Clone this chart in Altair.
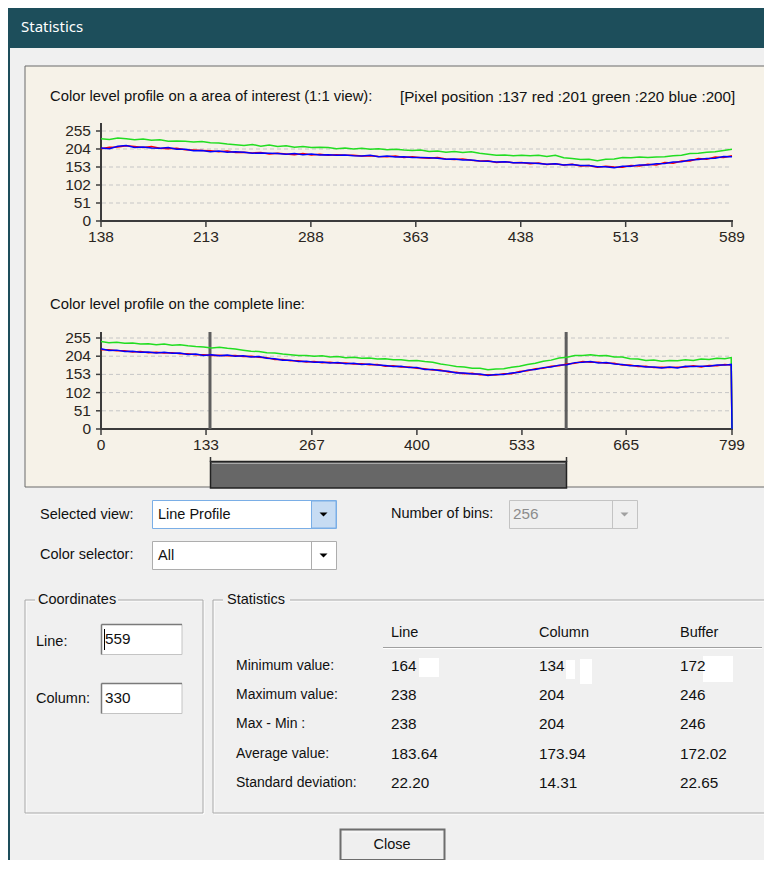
import altair as alt
import pandas as pd
import numpy as np

# ---------------- data ----------------
Y_TICKS = [0, 51, 102, 153, 204, 255]
AOI_TICKS = [138, 213, 288, 363, 438, 513, 589]
LINE_TICKS = [0, 133, 267, 400, 533, 665, 799]
AOI_DOMAIN = [138, 589]
LINE_DOMAIN = [0, 799]
AOI_MARKERS = [138, 589]

AOI_RED = [205, 209, 210, 213, 211, 208, 211, 206, 205, 206,
           202, 201, 200, 199, 196, 198, 194, 195, 193, 194,
           190, 192, 190, 188, 191, 187, 189, 186, 188, 186,
           186, 184, 185, 183, 182, 184, 180, 182, 179, 178,
           180, 176, 174, 176, 172, 170, 171, 166, 168, 165,
           166, 162, 164, 160, 162, 159, 161, 156, 157, 152,
           155, 153, 152, 157, 156, 161, 159, 166, 164, 170,
           170, 177, 175, 181, 180, 185]
AOI_GREEN = [233, 231, 235, 233, 230, 232, 229, 230, 226, 227,
             226, 224, 225, 222, 221, 218, 216, 214, 217, 212,
             215, 211, 213, 209, 211, 208, 209, 208, 205, 207,
             204, 206, 203, 205, 202, 203, 201, 200, 201, 197,
             198, 195, 197, 194, 196, 192, 189, 186, 187, 185,
             186, 185, 186, 183, 186, 179, 177, 174, 175, 171,
             175, 176, 180, 179, 181, 180, 181, 182, 185, 186,
             191, 192, 195, 196, 200, 203]
AOI_BLUE = [207, 205, 212, 214, 208, 210, 207, 206, 208, 203,
            203, 199, 200, 196, 198, 195, 196, 195, 192, 193,
            192, 191, 189, 191, 188, 190, 187, 188, 186, 187,
            185, 184, 186, 182, 184, 181, 182, 180, 180, 179,
            178, 175, 176, 173, 173, 170, 169, 167, 168, 165,
            165, 164, 163, 161, 162, 159, 160, 157, 157, 154,
            154, 151, 155, 155, 159, 159, 162, 163, 167, 168,
            173, 174, 177, 178, 183, 182]

LINE_X = list(range(0, 800, 10)) + [798, 799]
LINE_RED = [222, 222, 219, 219, 216, 217, 214, 215, 213, 214,
            211, 211, 208, 208, 206, 207, 205, 206, 203, 204,
            201, 200, 195, 195, 191, 191, 188, 189, 186, 187,
            184, 185, 182, 183, 180, 181, 176, 177, 174, 174,
            170, 169, 165, 165, 160, 159, 155, 156, 152, 152,
            151, 155, 155, 161, 163, 169, 170, 176, 177, 182,
            184, 189, 187, 187, 184, 184, 179, 179, 175, 176,
            172, 173, 172, 173, 174, 177, 174, 178, 177, 181,
            179, 0]
LINE_GREEN = [245, 242, 243, 240, 241, 238, 239, 236, 238, 235,
              236, 233, 231, 230, 227, 229, 226, 224, 221, 218,
              217, 214, 213, 210, 208, 206, 206, 204, 205, 202,
              203, 200, 201, 198, 199, 196, 197, 194, 194, 191,
              192, 189, 187, 182, 179, 175, 174, 170, 170, 166,
              168, 169, 173, 176, 181, 184, 190, 193, 199, 201,
              206, 206, 208, 205, 206, 202, 202, 197, 196, 192,
              193, 190, 192, 191, 194, 192, 196, 195, 198, 197,
              200, 0]
LINE_BLUE = [225, 220, 221, 217, 218, 215, 216, 213, 215, 212,
             213, 209, 210, 206, 208, 205, 207, 204, 205, 202,
             203, 198, 197, 193, 193, 189, 190, 187, 188, 185,
             186, 183, 184, 181, 182, 179, 178, 175, 176, 172,
             172, 167, 167, 163, 162, 157, 157, 154, 154, 150,
             153, 153, 157, 159, 165, 167, 172, 174, 179, 180,
             186, 187, 189, 185, 186, 182, 181, 177, 177, 174,
             174, 171, 174, 171, 176, 175, 176, 176, 179, 179,
             181, 0]

STAT_ROWS = ["Minimum value:", "Maximum value:", "Max - Min :", "Average value:", "Standard deviation:"]
STAT_HEADERS = ["Line", "Column", "Buffer"]
STAT_LINE = ["164", "238", "238", "183.64", "22.20"]
STAT_COLUMN = ["134", "204", "204", "173.94", "14.31"]
STAT_BUFFER = ["172", "246", "246", "172.02", "22.65"]

# ---------------- style ----------------
OX, OY = 8, 8
W, H = 756, 852
FONT = "Liberation Sans"
BG = "#f0f0f0"
TEAL = "#1d4e5b"
BEIGE = "#f6f2e8"
GRID = "#c6c6c6"
AXIS = "#3c3c3c"
LABEL = "#2a2520"
RED, GREEN, BLUE = "#ff0000", "#22dd22", "#0000ff"
TXT = "#111111"
FS = 14.5
FS_NUM = 15.3


def rect_layer(items):
    df = pd.DataFrame(items, columns=["x", "y", "x2", "y2", "fill", "stroke", "sw"])
    for c in ["x", "x2"]:
        df[c] = df[c] - OX
    for c in ["y", "y2"]:
        df[c] = df[c] - OY
    return alt.Chart(df).mark_rect().encode(
        x=alt.X("x:Q", scale=None), x2="x2:Q",
        y=alt.Y("y:Q", scale=None), y2="y2:Q",
        fill=alt.Fill("fill:N", scale=None),
        stroke=alt.Stroke("stroke:N", scale=None),
        strokeWidth=alt.StrokeWidth("sw:Q", scale=None))


def rule_layer(items):
    df = pd.DataFrame(items, columns=["x", "y", "x2", "y2", "c", "w"])
    for c in ["x", "x2"]:
        df[c] = df[c] - OX
    for c in ["y", "y2"]:
        df[c] = df[c] - OY
    return alt.Chart(df).mark_rule().encode(
        x=alt.X("x:Q", scale=None), x2="x2:Q",
        y=alt.Y("y:Q", scale=None), y2="y2:Q",
        color=alt.Color("c:N", scale=None),
        strokeWidth=alt.StrokeWidth("w:Q", scale=None))


def text_layer(items, align="left", font=FONT, weight="normal"):
    df = pd.DataFrame(items, columns=["x", "y", "t", "c", "s"])
    df["x"] = df["x"] - OX
    df["y"] = df["y"] - OY
    return alt.Chart(df).mark_text(align=align, baseline="middle", font=font, fontWeight=weight).encode(
        x=alt.X("x:Q", scale=None), y=alt.Y("y:Q", scale=None), text="t:N",
        color=alt.Color("c:N", scale=None), size=alt.Size("s:Q", scale=None))


def tri_layer(items):
    df = pd.DataFrame(items, columns=["x", "y", "c"])
    df["x"] = df["x"] - OX
    df["y"] = df["y"] - OY
    return alt.Chart(df).mark_point(shape="M-1,-0.5L1,-0.5L0,0.5Z", filled=True, size=64, opacity=1).encode(
        x=alt.X("x:Q", scale=None), y=alt.Y("y:Q", scale=None),
        color=alt.Color("c:N", scale=None))


def profile_layers(xdom, xs, reds, greens, blues, ticks, y0, y255, ytop, label_y, markers=None):
    xsc = alt.Scale(domain=xdom, range=[101 - OX, 732 - OX], nice=False, zero=False)
    ysc = alt.Scale(domain=[0, 255], range=[y0 - OY, y255 - OY], nice=False, zero=False)
    L = []
    L.append(alt.Chart(pd.DataFrame({"v": Y_TICKS[1:]})).mark_rule(
        color=GRID, strokeDash=[4, 3], strokeWidth=1).encode(
        y=alt.Y("v:Q", scale=ysc, axis=None), x=alt.value(102 - OX), x2=alt.value(732 - OX)))
    L.append(alt.Chart(pd.DataFrame({"v": Y_TICKS})).mark_rule(color=AXIS, strokeWidth=1.5).encode(
        y=alt.Y("v:Q", scale=ysc, axis=None), x=alt.value(96 - OX), x2=alt.value(101 - OX)))
    L.append(alt.Chart(pd.DataFrame({"v": Y_TICKS})).mark_text(
        align="right", baseline="middle", font=FONT, fontSize=15.5, color=LABEL).encode(
        y=alt.Y("v:Q", scale=ysc, axis=None), x=alt.value(91 - OX), text="v:Q"))
    L.append(alt.Chart(pd.DataFrame({"v": ticks})).mark_rule(color=AXIS, strokeWidth=1.5).encode(
        x=alt.X("v:Q", scale=xsc, axis=None), y=alt.value(y0 - OY), y2=alt.value(y0 + 6 - OY)))
    L.append(alt.Chart(pd.DataFrame({"v": ticks})).mark_text(
        align="center", baseline="middle", font=FONT, fontSize=15.5, color=LABEL).encode(
        x=alt.X("v:Q", scale=xsc, axis=None), y=alt.value(label_y - OY), text="v:Q"))
    L.append(rule_layer([(101, ytop, 101, y0 + 1, AXIS, 2), (100, y0, 733, y0, AXIS, 2)]))
    if markers:
        L.append(alt.Chart(pd.DataFrame({"v": markers})).mark_rule(color="#5e5e5e", strokeWidth=3).encode(
            x=alt.X("v:Q", scale=xsc, axis=None), y=alt.value(ytop - OY), y2=alt.value(y0 - OY)))
    for vals, col in [(reds, RED), (greens, GREEN), (blues, BLUE)]:
        L.append(alt.Chart(pd.DataFrame({"x": xs, "v": vals})).mark_line(color=col, strokeWidth=1.5).encode(
            x=alt.X("x:Q", scale=xsc, axis=None), y=alt.Y("v:Q", scale=ysc, axis=None)))
    return L


AOI_X = np.linspace(AOI_DOMAIN[0], AOI_DOMAIN[1], len(AOI_RED))

# ---------------- window chrome ----------------
rects = [
    (8, 0, 767, 48, TEAL, "transparent", 0),
    (8, 48, 10, 900, TEAL, "transparent", 0),
    (25, 66, 769, 487, BEIGE, "#6b6b6b", 1),
    # combos
    (152.5, 500.5, 336.5, 528.5, "white", "#7aaee6", 1),
    (311.5, 501, 336, 528, "#c7dcf3", "#7aaee6", 1),
    (152.5, 541.5, 336.5, 569.5, "white", "#adadad", 1),
    (509.5, 500.5, 637.5, 528.5, "#efefef", "#c3c3c3", 1),
    # group frames (etched)
    (26, 601, 204, 814, "transparent", "white", 1),
    (25, 600, 203, 813, "transparent", "#a9a9a9", 1),
    (214, 601, 800, 814, "transparent", "white", 1),
    (213, 600, 800, 813, "transparent", "#a9a9a9", 1),
    (35, 592, 118, 609, BG, "transparent", 0),
    (223, 592, 290, 609, BG, "transparent", 0),
    # text boxes
    (101.5, 624.5, 182, 654.5, "white", "#c4c4c4", 1),
    (101.5, 683.5, 182, 713.5, "white", "#c4c4c4", 1),
    # redaction patches
    (419, 658, 439, 677, "white", "transparent", 0),
    (566, 660, 575, 679, "white", "transparent", 0),
    (580, 659, 592, 684, "white", "transparent", 0),
    (703, 656, 733, 682, "white", "transparent", 0),
    # close button
    (340.5, 829.5, 444.5, 860, "#efefef", "#6d6d6d", 2),
]

rules = [
    (101.5, 624.5, 182, 624.5, "#7a7a7a", 1.5),
    (101.5, 624.5, 101.5, 654.5, "#7a7a7a", 1.5),
    (101.5, 683.5, 182, 683.5, "#7a7a7a", 1.5),
    (101.5, 683.5, 101.5, 713.5, "#7a7a7a", 1.5),
    (311.5, 541.5, 311.5, 569.5, "#adadad", 1),
    (612.5, 500.5, 612.5, 528.5, "#c3c3c3", 1),
    (383, 647.5, 762, 647.5, "#a0a0a0", 1),
    (383, 648.5, 762, 648.5, "white", 1),
    (104.5, 629, 104.5, 650, "#000000", 1),
    (343, 832, 442, 832, "#fafafa", 1),
]

thumb_rects = [(210.5, 461.5, 566.5, 488, "#676767", "#222222", 1.5)]
thumb_rules = [
    (212, 463.5, 565, 463.5, "#a8a8a8", 1),
    (210.5, 457, 210.5, 462, "#333333", 1.5),
    (566.5, 457, 566.5, 462, "#333333", 1.5),
]

texts_left = [
    (50, 97, "Color level profile on a area of interest (1:1 view):", TXT, 14.8),
    (400, 97, "[Pixel position :137  red :201 green :220 blue :200]", TXT, 15.2),
    (50, 305, "Color level profile on the complete line:", TXT, 14.8),
    (40, 515, "Selected view:", TXT, FS),
    (158, 515, "Line Profile", TXT, FS),
    (40, 555, "Color selector:", TXT, FS),
    (158, 556, "All", TXT, FS),
    (391, 514, "Number of bins:", TXT, FS),
    (513, 514, "256", "#8c8c8c", FS_NUM),
    (38, 600, "Coordinates", TXT, FS),
    (227, 600, "Statistics", TXT, FS),
    (36, 642, "Line:", TXT, FS),
    (105, 639, "559", TXT, FS_NUM),
    (36, 699, "Column:", TXT, FS),
    (105, 698, "330", TXT, FS_NUM),
]
for hx, h in zip([391, 539, 680], STAT_HEADERS):
    texts_left.append((hx, 633, h, TXT, FS))
row_y = [666, 695, 724, 754, 783]
for ry, lab, a, b, c in zip(row_y, STAT_ROWS, STAT_LINE, STAT_COLUMN, STAT_BUFFER):
    texts_left.append((236, ry, lab, TXT, 14))
    texts_left.append((391, ry, a, TXT, FS_NUM))
    texts_left.append((539, ry, b, TXT, FS_NUM))
    texts_left.append((680, ry, c, TXT, FS_NUM))

texts_center = [(392, 845, "Close", TXT, FS)]
title_text = [(21, 27, "Statistics", "#ffffff", 15)]

tris = [(323.5, 514.5, "#000000"), (323.5, 555.5, "#000000"), (624.5, 514.5, "#a0a0a0")]

layers = [rect_layer(rects)]
layers += profile_layers(AOI_DOMAIN, AOI_X, AOI_RED, AOI_GREEN, AOI_BLUE, AOI_TICKS,
                         221, 131, 123, 237)
layers += profile_layers(LINE_DOMAIN, LINE_X, LINE_RED, LINE_GREEN, LINE_BLUE, LINE_TICKS,
                         429, 338, 332, 445, markers=AOI_MARKERS)
layers += [rect_layer(thumb_rects), rule_layer(thumb_rules), rule_layer(rules),
           text_layer(texts_left), text_layer(texts_center, align="center"),
           text_layer(title_text, font="Noto Sans"), tri_layer(tris)]

chart = alt.layer(*layers).resolve_scale(
    x="independent", y="independent", color="independent", fill="independent",
    stroke="independent", size="independent", strokeWidth="independent"
).properties(
    width=W, height=H, padding=0, autosize=alt.AutoSizeParams(type="none"), background=BG
).configure_view(strokeWidth=0)

chart.save("out.html", embed_options={"renderer": "svg", "actions": False})
